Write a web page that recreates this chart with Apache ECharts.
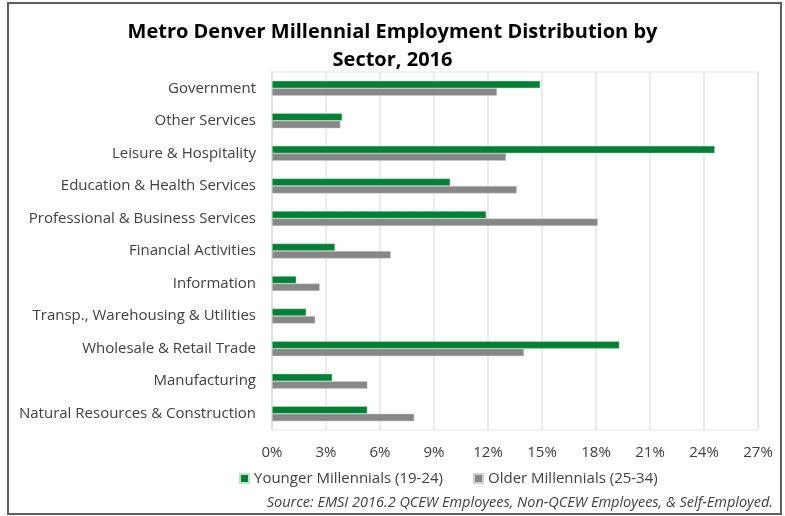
<!DOCTYPE html>
<html>
	<head>
		<meta charset="UTF-8">
		<title></title>
		<style>
			html, body { margin: 0; padding: 0; background: #fff; }
		</style>
	</head>
	<body>
		<div id="chart" style="width:785px;height:516px;"></div>

		<script src="https://cdn.jsdelivr.net/npm/echarts@6/dist/echarts.min.js"></script>
		<script>
			var sectors = ['Government', 'Other Services', 'Leisure & Hospitality', 'Education & Health Services',
				'Professional & Business Services', 'Financial Activities', 'Information',
				'Transp., Warehousing & Utilities', 'Wholesale & Retail Trade', 'Manufacturing',
				'Natural Resources & Construction']
			var younger = [14.9, 3.9, 24.6, 9.9, 11.9, 3.5, 1.35, 1.9, 19.3, 3.35, 5.3] /*19-24*/
			var older = [12.5, 3.8, 13.0, 13.6, 18.1, 6.6, 2.65, 2.4, 14.0, 5.3, 7.9] /*25-34*/
			var seriesNames = ['Younger Millennials (19-24)', 'Older Millennials (25-34)']

			var font = '"Open Sans", sans-serif'
			var myChart = echarts.init(document.getElementById('chart'))
			myChart.setOption({
				animation: false,
				title: {
					text: 'Metro Denver Millennial Employment Distribution by\nSector, 2016',
					left: 'center',
					top: 13,
					textStyle: {
						fontFamily: font,
						fontSize: 20,
						fontWeight: 'bold',
						color: '#000',
						lineHeight: 28
					}
				},
				legend: {
					top: 466,
					left: 234,
					itemWidth: 9,
					itemHeight: 9,
					itemGap: 30,
					icon: 'rect',
					textStyle: { fontFamily: font, fontSize: 15, color: '#404040' },
					data: seriesNames
				},
				grid: {
					left: 272,
					right: 27,
					top: 72,
					bottom: 86,
					show: true,
					borderColor: '#e4e4e4',
					borderWidth: 1
				},
				xAxis: {
					type: 'value',
					min: 0,
					max: 27,
					interval: 3,
					axisLine: { show: false },
					axisTick: { show: false },
					splitLine: { lineStyle: { color: '#e4e4e4', width: 1.5 } },
					axisLabel: {
						fontFamily: font,
						fontSize: 15,
						color: '#404040',
						margin: 15,
						formatter: '{value}%'
					}
				},
				yAxis: {
					type: 'category',
					inverse: true,
					data: sectors,
					axisLine: { lineStyle: { color: '#e0e0e0', width: 1.5 } },
					axisTick: { show: false },
					axisLabel: {
						fontFamily: font,
						fontSize: 15,
						color: '#404040',
						margin: 16
					}
				},
				series: [{
					name: seriesNames[0],
					type: 'bar',
					data: younger,
					barWidth: 7.5,
					barGap: '0%',
					itemStyle: { color: '#037f36', borderColor: '#bfe3c9', borderWidth: 0.5 }
				}, {
					name: seriesNames[1],
					type: 'bar',
					data: older,
					barWidth: 7.5,
					barGap: '0%',
					itemStyle: { color: '#878787', borderColor: '#cfcfcf', borderWidth: 0.5 }
				}],
				graphic: [{
					type: 'rect',
					shape: { x: 8, y: 3, width: 773, height: 511 },
					style: { fill: 'none', stroke: '#5f5f5f', lineWidth: 2 }
				}, {
					type: 'text',
					right: 12,
					bottom: 6,
					style: {
						text: 'Source: EMSI 2016.2 QCEW Employees, Non-QCEW Employees, & Self-Employed.',
						font: 'italic 14.5px "Open Sans", sans-serif',
						fill: '#404040'
					}
				}]
			})
		</script>
	</body>
</html>
